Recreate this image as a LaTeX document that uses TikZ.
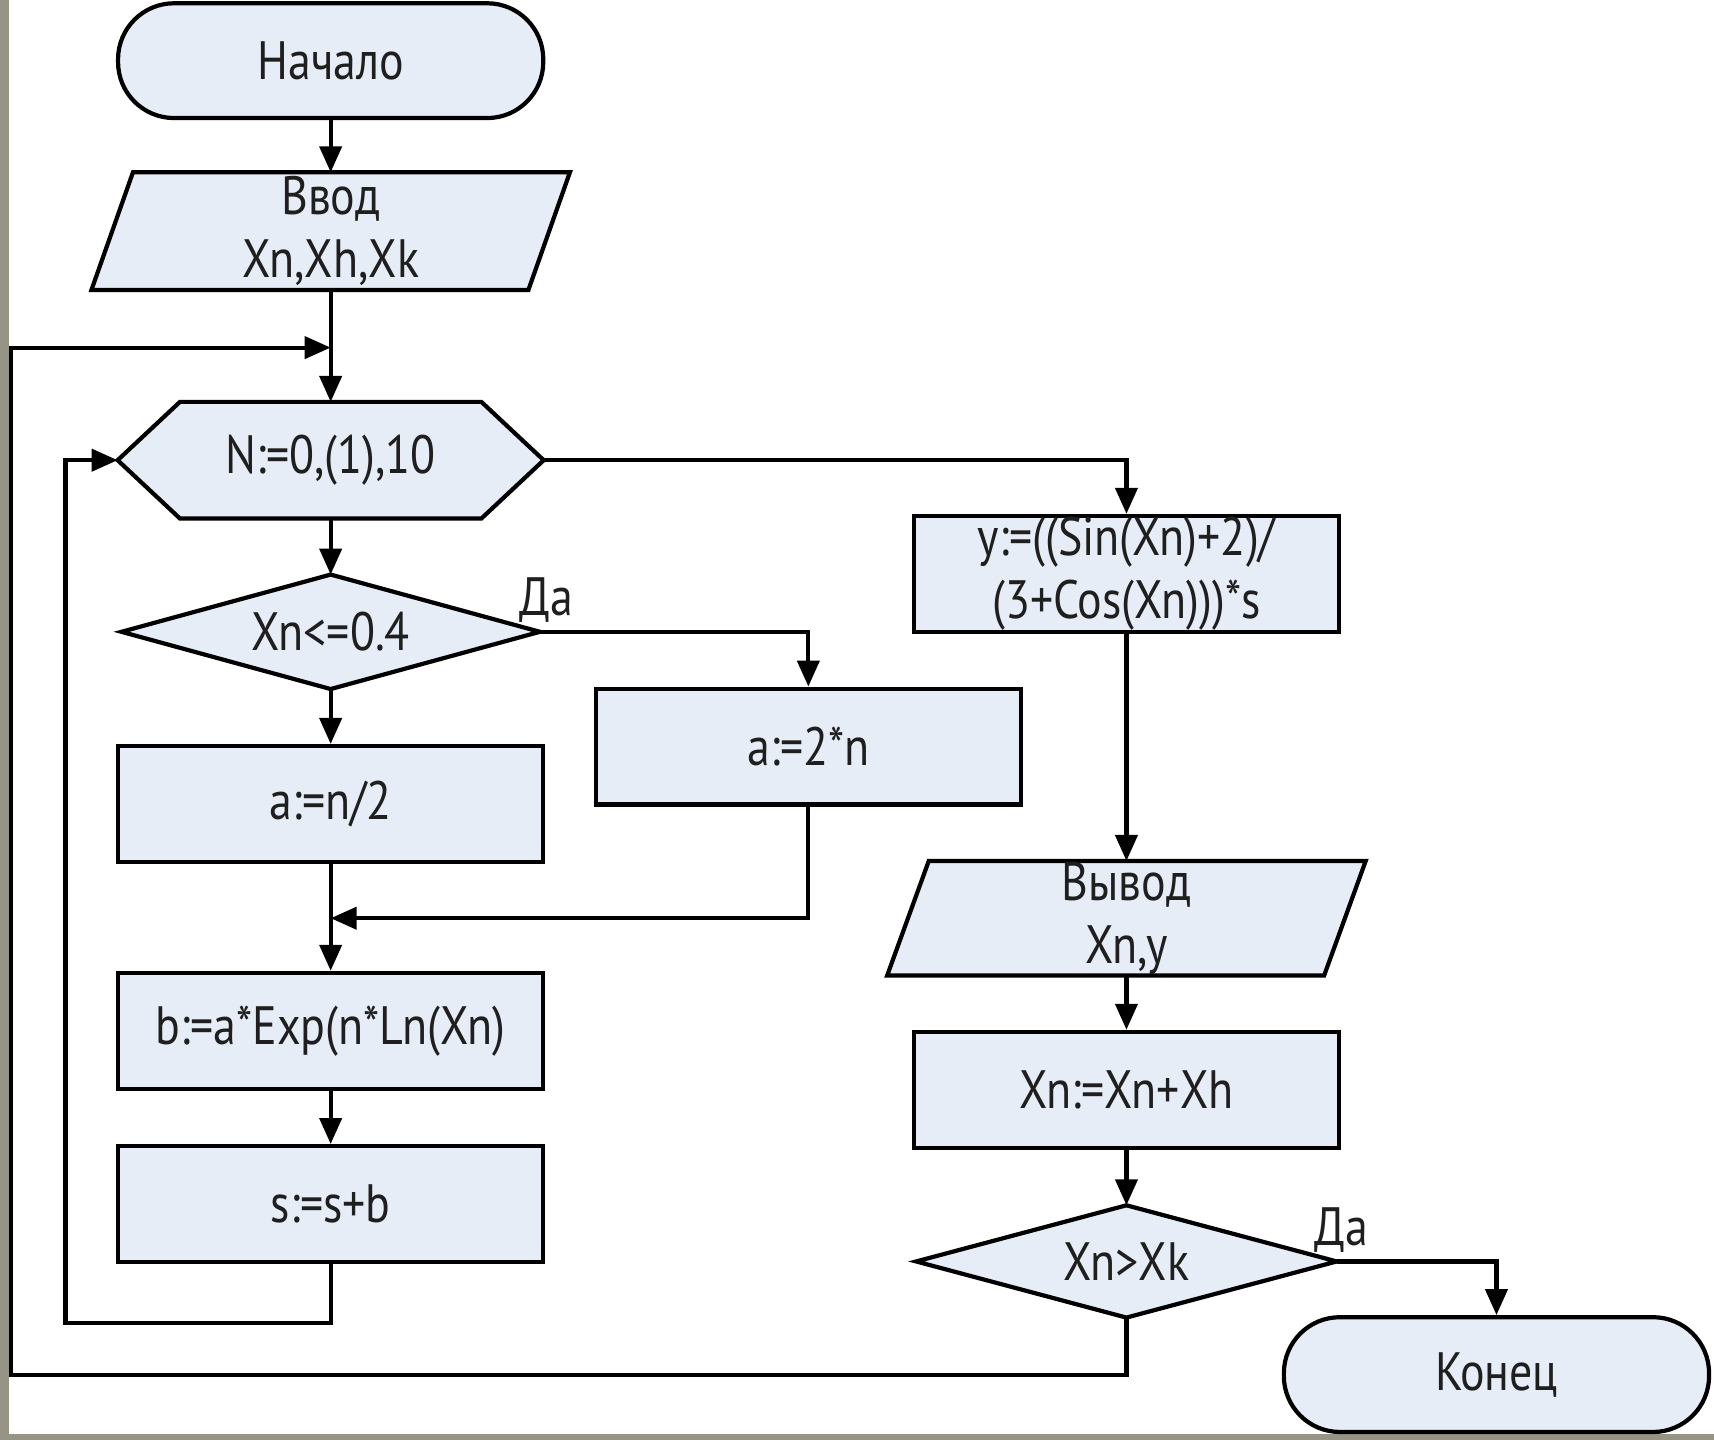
\documentclass[tikz,border=0pt]{standalone}
\usepackage{fontspec}
\setmainfont{PT Sans}[FakeStretch=0.85]
\usetikzlibrary{arrows.meta,calc}
\pgfdeclarelayer{bg}
\pgfdeclarelayer{canvas}
\pgfsetlayers{canvas,bg,main}
\definecolor{boxfill}{RGB}{231,237,247}
\definecolor{framegray}{RGB}{150,148,132}
\def\px{0.54655pt}
\begin{document}
\begin{tikzpicture}[x=0.54655pt, y=-0.54655pt,
  every node/.style={font=\fontsize{27}{31.5}\selectfont, align=center, inner sep=0pt, text=black!88},
  blk/.style={draw, fill=boxfill, line width=2.1pt, minimum width=389*\px, minimum height=106*\px},
  term/.style={draw, fill=boxfill, line width=2.1pt, rounded corners=28pt, minimum width=389*\px, minimum height=105*\px},
  shp/.style={draw, fill=boxfill, line width=2.1pt},
  conn/.style={line width=2.1pt},
  arr/.style={conn, -{Triangle[length=13pt,width=11pt]}},
  lbl/.style={anchor=south}
]
\useasboundingbox (0,0) rectangle (1568,1317);
\begin{pgfonlayer}{canvas}
\fill[white] (0,0) rectangle (1568,1317);
\fill[framegray] (0,0) rectangle (8,1317);
\fill[framegray] (0,1312) rectangle (1568,1317);
\end{pgfonlayer}

% nodes
\node[term] (start) at (302.5,55.5) {Начало};
\node[minimum width=437*\px, minimum height=107*\px] (in) at (302.5,211.5) {Ввод\\Xn,Xh,Xk};
\node[minimum width=389*\px, minimum height=106*\px] (loop) at (302.5,421) {N:=0,(1),10};
\node[minimum width=382*\px, minimum height=104*\px] (cond1) at (302.5,578) {Xn<=0.4};
\node[blk] (a2) at (739.5,683) {a:=2*n};
\node[blk] (a1) at (302.5,735.5) {a:=n/2};
\node[blk] (b) at (302.5,943) {b:=a*Exp(n*Ln(Xn)};
\node[blk] (s) at (302.5,1101.5) {s:=s+b};
\node[blk] (ybox) at (1030.5,525) {y:=((Sin(Xn)+2)/\\(3+Cos(Xn)))*s};
\node[minimum width=437*\px, minimum height=104*\px] (out) at (1030.5,840) {Вывод\\Xn,y};
\node[blk] (inc) at (1030.5,997) {Xn:=Xn+Xh};
\node[minimum width=384*\px, minimum height=102*\px] (cond2) at (1030.5,1154) {Xn>Xk};
\node[term] (end) at (1369,1257.5) {Конец};

% outlines of custom shapes
\begin{pgfonlayer}{bg}
\draw[shp] (in.south west) -- ($(in.north west)+(38,0)$) -- (in.north east) -- ($(in.south east)+(-38,0)$) -- cycle;
\draw[shp] (out.south west) -- ($(out.north west)+(38,0)$) -- (out.north east) -- ($(out.south east)+(-38,0)$) -- cycle;
\draw[shp] (loop.west) -- ($(loop.north west)+(57,0)$) -- ($(loop.north east)+(-57,0)$) -- (loop.east) -- ($(loop.south east)+(-57,0)$) -- ($(loop.south west)+(57,0)$) -- cycle;
\draw[shp] (cond1.west) -- (cond1.north) -- (cond1.east) -- (cond1.south) -- cycle;
\draw[shp] (cond2.west) -- (cond2.north) -- (cond2.east) -- (cond2.south) -- cycle;
\end{pgfonlayer}

% labels
\node[lbl] (da1) at ($(cond1.east)+(6,-8)$) {Да};
\node[lbl] (da2) at ($(cond2.east)+(4,-8)$) {Да};

% helper coordinates
\coordinate (j1) at (302.5,318);
\coordinate (lb) at (10,1258);
\coordinate (m1) at (302.5,840);
\coordinate (lb2) at (60,1210);

% connectors
\draw[arr] (start.south) -- (in.north);
\draw[arr] (in.south) -- (loop.north);
\draw[arr] (cond2.south) |- (lb) |- (j1);
\draw[arr] (loop.east) -| (ybox.north);
\draw[arr] (loop.south) -- (cond1.north);
\draw[arr] (cond1.east) -| (a2.north);
\draw[arr] (cond1.south) -- (a1.north);
\draw[arr] (a1.south) -- (b.north);
\draw[arr] (a2.south) |- (m1);
\draw[arr] (b.south) -- (s.north);
\draw[arr] (s.south) |- (lb2) |- (loop.west);
\draw[arr] (ybox.south) -- (out.north);
\draw[arr] (out.south) -- (inc.north);
\draw[arr] (inc.south) -- (cond2.north);
\draw[arr] (cond2.east) -| (end.north);
\end{tikzpicture}
\end{document}
